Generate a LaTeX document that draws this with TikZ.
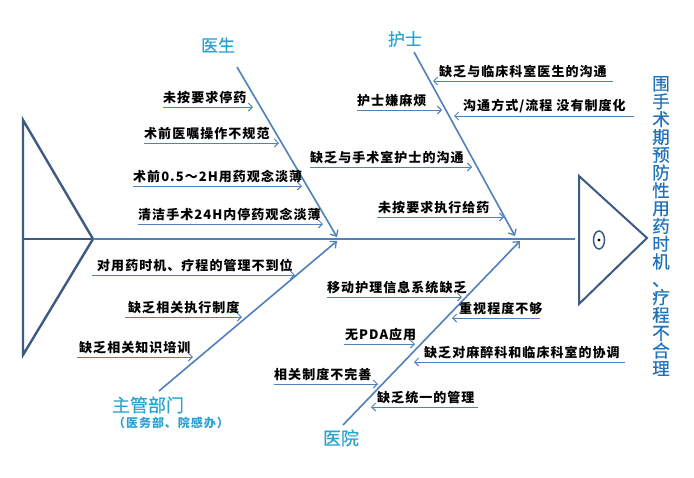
\documentclass[tikz,border=0pt]{standalone}
\usepackage{fontspec}
\newfontfamily\cjk[FakeBold=0.5]{Noto Sans CJK SC}
\newfontfamily\cjkc[LetterSpace=8]{Noto Sans CJK SC}
\usetikzlibrary{arrows.meta}
\definecolor{bone}{HTML}{4F81BD}
\definecolor{tailc}{HTML}{3C5A84}
\definecolor{lab}{HTML}{2AA3D2}
\definecolor{headt}{HTML}{1E72BC}
\newcommand\fbcause[6]{%
  \coordinate (#1s) at (#2,#4);
  \coordinate (#1e) at (#3,#4);
  \draw[substyle] (#1s) -- (#1e);
  \node[cause, anchor=south west] (#1t) at (#5,#4-3) {#6};}
\begin{document}
\begin{tikzpicture}[x=1pt,y=-1pt,
  bonestyle/.style={draw=bone, line width=1.6pt, -{Straight Barb[length=5pt,width=9pt,line width=1.3pt]}},
  substyle/.style={draw=bone, line width=0.9pt, -{Straight Barb[length=4pt,width=8pt,line width=0.9pt]}},
  cause/.style={inner sep=0pt, font=\cjkc\bfseries\fontsize{13}{13}\selectfont, text=black},
  catlab/.style={inner sep=0pt, font=\cjk\fontsize{17}{17}\selectfont, text=lab},
  outline/.style={draw=tailc, line width=2.4pt, line join=miter},
]
\fill[white] (0,0) rectangle (694,477);
\useasboundingbox (0,0) rectangle (694,477);

% tail
\coordinate (tt) at (23,120);
\coordinate (tb) at (23,355);
\coordinate (tm) at (23,239);
\coordinate (tip) at (93,239);
\draw[outline] (tt) -- (tip) -- (tb) -- cycle;
\draw[outline] (tm) -- (tip);

% spine
\coordinate (se) at (575,239);
\draw[draw=bone, line width=2pt] (tip) -- (se);

% head
\coordinate (ht) at (579,176);
\coordinate (hp) at (647,238);
\coordinate (hb) at (579,304);
\draw[draw=tailc, line width=2pt, line join=miter] (ht) -- (hp) -- (hb) -- cycle;
\coordinate (eye) at (599,240);
\draw[tailc, line width=1.5pt] (eye) ellipse [x radius=5.5pt, y radius=9pt];
\fill[black] (eye) circle [radius=1.7pt];

% head text
\node[inner sep=0pt, text=headt, font=\cjk\fontsize{17.5}{17.8}\selectfont, align=center] (effect) at (661,226)
  {围\\手\\术\\期\\预\\防\\性\\用\\药\\时\\机\\、\\疗\\程\\不\\合\\理};

% bones
\coordinate (b1s) at (237,67);  \coordinate (b1e) at (337,237);
\coordinate (b2s) at (414,52);  \coordinate (b2e) at (515,236);
\coordinate (b3s) at (159,391); \coordinate (b3e) at (337,241);
\coordinate (b4s) at (343,425); \coordinate (b4e) at (520,241);
\draw[bonestyle] (b1s) -- (b1e);
\draw[bonestyle] (b2s) -- (b2e);
\draw[bonestyle] (b3s) -- (b3e);
\draw[bonestyle] (b4s) -- (b4e);

% category labels
\node[catlab] (doc) at (218,45) {医生};
\node[catlab] (nur) at (405,39) {护士};
\node[catlab, font=\cjk\fontsize{18}{18}\selectfont] (mgr) at (148,405) {主管部门};
\node[inner sep=0pt, text=lab, font=\cjkc\bfseries\fontsize{12}{12}\selectfont] (mgr2) at (171,423) {（医务部、院感办）};
\node[catlab, font=\cjk\fontsize{18}{18}\selectfont] (hos) at (341,438) {医院};

% doctor causes
\fbcause{d1}{163}{253}{107}{163}{未按要求停药}
\fbcause{d2}{144}{279}{143}{144}{术前医嘱操作不规范}
\fbcause{d3}{133}{302}{186}{133}{术前0.5～2H用药观念淡薄}
\fbcause{d4}{138}{323}{224}{138}{清洁手术24H内停药观念淡薄}

% nurse causes
\fbcause{n1}{613}{433}{81}{439}{缺乏与临床科室医生的沟通}
\fbcause{n2}{357}{442}{110}{357}{护士嫌麻烦}
\fbcause{n3}{634}{454}{116}{463}{沟通方式/流程 没有制度化}
\fbcause{n4}{310}{472}{167}{310}{缺乏与手术室护士的沟通}
\fbcause{n5}{377}{504}{217}{378}{未按要求执行给药}

% management causes
\fbcause{m1}{92}{295}{275}{97}{对用药时机、疗程的管理不到位}
\fbcause{m2}{125}{242}{317}{128}{缺乏相关执行制度}
\fbcause{m3}{77}{193}{357}{79}{缺乏相关知识培训}

% hospital causes
\fbcause{h1}{327}{462}{297}{327}{移动护理信息系统缺乏}
\fbcause{h2}{540}{452}{318}{459}{重视程度不够}
\fbcause{h3}{344}{415}{344}{345}{无PDA应用}
\fbcause{h4}{625}{414}{362}{424}{缺乏对麻醉科和临床科室的协调}
\fbcause{h5}{274}{378}{384}{274}{相关制度不完善}
\fbcause{h6}{478}{371}{407}{377}{缺乏统一的管理}
\end{tikzpicture}
\end{document}
